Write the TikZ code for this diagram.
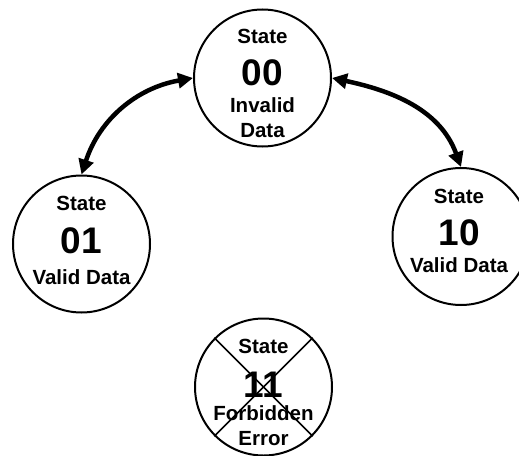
\documentclass[tikz,border=0pt]{standalone}
\usepackage{fontspec}
\setmainfont{Liberation Sans}
\usetikzlibrary{arrows.meta,calc}
\begin{document}
\begin{tikzpicture}[x=1pt,y=1pt,
  statecirc/.style={circle,draw=black,line width=2pt,minimum size=137pt,inner sep=0pt},
  lbl/.style={anchor=base,inner sep=0pt,font=\fontsize{20.5}{22}\selectfont\bfseries},
  num/.style={anchor=base,inner sep=0pt,font=\fontsize{37}{40}\selectfont\bfseries},
  trans/.style={line width=4.5pt,{Triangle[length=15pt,width=15pt]}-{Triangle[length=15pt,width=15pt]},shorten <=0pt,shorten >=0pt},
  cross/.style={line width=1.5pt}]
\useasboundingbox (0,0) rectangle (519,-455);
% circles
\node[statecirc] (s00) at (262.5,-78) {};
\node[statecirc] (s01) at (81.5,-244) {};
\node[statecirc] (s10) at (461,-236.5) {};
\node[statecirc] (s11) at (263.5,-387) {};
% texts state 00
\node[lbl] (t00a) at ($(s00)+(0,35)$) {State};
\node[num] (t00b) at ($(s00)+(0,-7)$) {00};
\node[lbl] (t00c) at ($(s00)+(0,-34)$) {Invalid};
\node[lbl] (t00d) at ($(s00)+(0,-59)$) {Data};
% state 01
\node[lbl] (t01a) at ($(s01)+(0,34)$) {State};
\node[num] (t01b) at ($(s01)+(0,-9)$) {01};
\node[lbl] (t01c) at ($(s01)+(0,-40)$) {Valid Data};
% state 10
\node[lbl] (t10a) at ($(s10)+(-2,33.5)$) {State};
\node[num] (t10b) at ($(s10)+(-2,-8.5)$) {10};
\node[lbl] (t10c) at ($(s10)+(-2,-36)$) {Valid Data};
% state 11
\node[lbl] (t11a) at ($(s11)+(0,34)$) {State};
\node[num] (t11b) at ($(s11)+(0,-10)$) {11};
\node[lbl] (t11c) at ($(s11)+(0,-33)$) {Forbidden};
\node[lbl] (t11d) at ($(s11)+(0,-58)$) {Error};
\draw[cross] (s11.north west) -- (s11.south east);
\draw[cross] (s11.north east) -- (s11.south west);
% transitions
\draw[trans] (s00.west) to[out=190,in=72] (s01.north);
\draw[trans] (s00.east) to[out=-12,in=110] (s10.north);
\end{tikzpicture}
\end{document}
